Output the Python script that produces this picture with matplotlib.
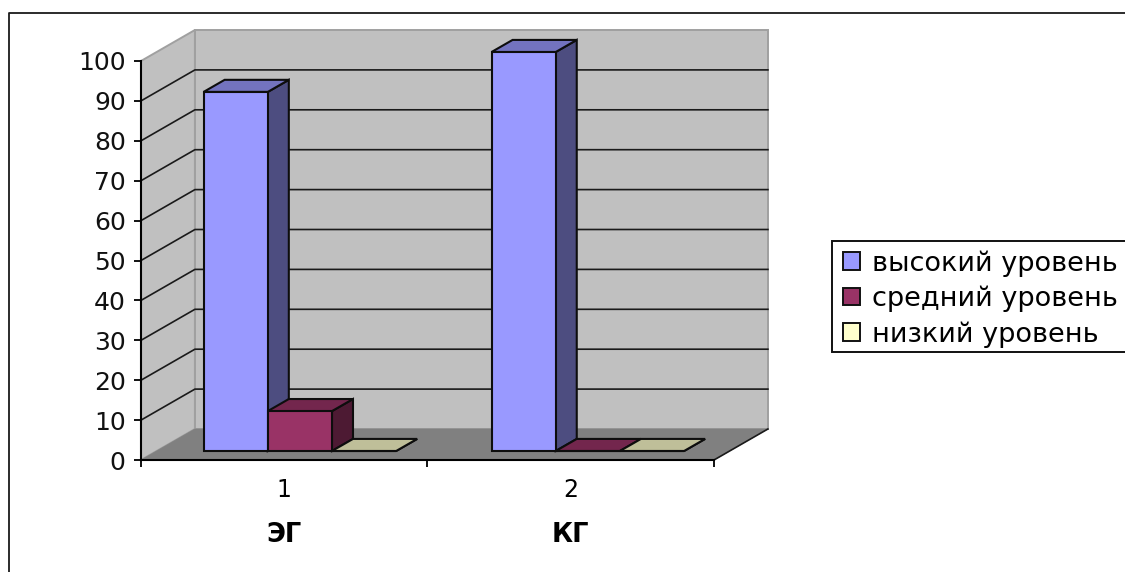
import matplotlib
matplotlib.use("Agg")
import matplotlib.pyplot as plt
from matplotlib.patches import Polygon, Patch, Rectangle

plt.rcParams['font.family'] = ['DejaVu Sans']

groups = ["1", "2"]
group_names = ["ЭГ", "КГ"]
series_names = ["высокий уровень", "средний уровень", "низкий уровень"]
values_high = [90, 100]
values_mid = [10, 0]
values_low = [0, 0]
y_ticks = [0, 10, 20, 30, 40, 50, 60, 70, 80, 90, 100]

face_colors = ["#9999FF", "#993366", "#FFFFCC"]
side_colors = ["#4D4D80", "#4D1A33", "#808066"]
top_colors = ["#7373BF", "#73264D", "#BFBF99"]

W, H = 1125, 572
# shift of the full chart depth, in data units
DEPTH_X = 54 / 287
DEPTH_Y = 31 / 3.99
BAR_W = 0.224
GAP = 0.164
BAR_FRONT = 0.29
BAR_BACK = 0.68
GROUP_STEP = 1.005


def proj(x, v, d=0.0):
    return (x + d * DEPTH_X, v + d * DEPTH_Y)


def poly(ax, pts, color, edge="none", lw=0.0, z=1):
    ax.add_patch(Polygon(pts, closed=True, facecolor=color, edgecolor=edge,
                         linewidth=lw, clip_on=False, zorder=z, joinstyle="miter"))


def bar3d(ax, x0, value, k):
    x1 = x0 + BAR_W
    f, b = BAR_FRONT, BAR_BACK
    # side, top and front of one column
    poly(ax, [proj(x1, 0, f), proj(x1, 0, b), proj(x1, value, b), proj(x1, value, f)],
         side_colors[k], "#0D0D0D", 1.5, 5)
    poly(ax, [proj(x0, value, f), proj(x1, value, f), proj(x1, value, b), proj(x0, value, b)],
         top_colors[k], "#0D0D0D", 1.5, 5)
    poly(ax, [proj(x0, 0, f), proj(x1, 0, f), proj(x1, value, f), proj(x0, value, f)],
         face_colors[k], "#0D0D0D", 1.5, 5)


fig = plt.figure(figsize=(W / 100, H / 100), dpi=100, facecolor="white")
ax = fig.add_axes([141 / W, 1 - 460 / H, 573 / W, 399 / H])
ax.set_xlim(0, 2)
ax.set_ylim(0, 100)
ax.patch.set_visible(False)

# walls and floor
poly(ax, [proj(0, 0, 1), proj(2, 0, 1), proj(2, 100, 1), proj(0, 100, 1)], "#C0C0C0", "#A0A0A0", 1.4, 1)
poly(ax, [proj(0, 0, 0), proj(0, 0, 1), proj(0, 100, 1), proj(0, 100, 0)], "#C0C0C0", "#A0A0A0", 1.4, 1)
poly(ax, [proj(0, 0, 0), proj(2, 0, 0), proj(2, 0, 1), proj(0, 0, 1)], "#808080", "#808080", 0.5, 2)

# grid on both walls
for v in y_ticks[1:-1]:
    ax.plot(*zip(proj(0, v, 0), proj(0, v, 1), proj(2, v, 1)), color="#1A1A1A", lw=1.2, clip_on=False, zorder=3)
ax.plot(*zip(proj(2, 0, 0), proj(2, 0, 1)), color="#1A1A1A", lw=1.2, clip_on=False, zorder=3)

for i in range(len(groups)):
    row = [values_high[i], values_mid[i], values_low[i]]
    for k, val in enumerate(row):
        bar3d(ax, i * GROUP_STEP + GAP + k * BAR_W, val, k)

for name in ["top", "right"]:
    ax.spines[name].set_visible(False)
for name in ["left", "bottom"]:
    ax.spines[name].set_linewidth(1.5)
    ax.spines[name].set_zorder(6)

ax.set_yticks(y_ticks)
ax.set_xticks([0, 1, 2])
ax.set_xticklabels([])
ax.set_xticks([0.5, 1.5], minor=True)
ax.set_xticklabels(groups, minor=True)
ax.tick_params(axis="both", which="major", length=5, width=1.4, labelsize=18, pad=6, colors="#111111")
ax.tick_params(axis="x", which="minor", length=0, labelsize=17, pad=13)

for i, name in enumerate(group_names):
    ax.annotate(name, (i + 0.5, 0), xytext=(0, -75), xycoords="data", textcoords="offset pixels",
                ha="center", va="center", fontsize=18.5, fontweight="bold", annotation_clip=False)

# legend box is drawn apart so it can run past the right edge
fig.add_artist(Rectangle((832 / W, 1 - 352 / H), 320 / W, 111 / H, transform=fig.transFigure,
                         facecolor="white", edgecolor="#111111", linewidth=1.4))
handles = [Patch(facecolor=c, edgecolor="#111111", linewidth=1.4) for c in face_colors]
leg = fig.legend(handles, series_names, loc="upper left", bbox_to_anchor=(835 / W, 1 - 242 / H),
                 fontsize=19.5, frameon=False, borderaxespad=0, borderpad=0.3, labelspacing=0.33,
                 handlelength=0.64, handleheight=0.64, handletextpad=0.42)
leg.set_zorder(10)

# outer chart border, open on the right and at the bottom
fig.add_artist(plt.Line2D([9 / W, 9 / W, 1], [0, 1 - 13 / H, 1 - 13 / H], color="#1A1A1A", lw=1.3,
                          transform=fig.transFigure))

fig.savefig("out.png", dpi=100, facecolor="white")
